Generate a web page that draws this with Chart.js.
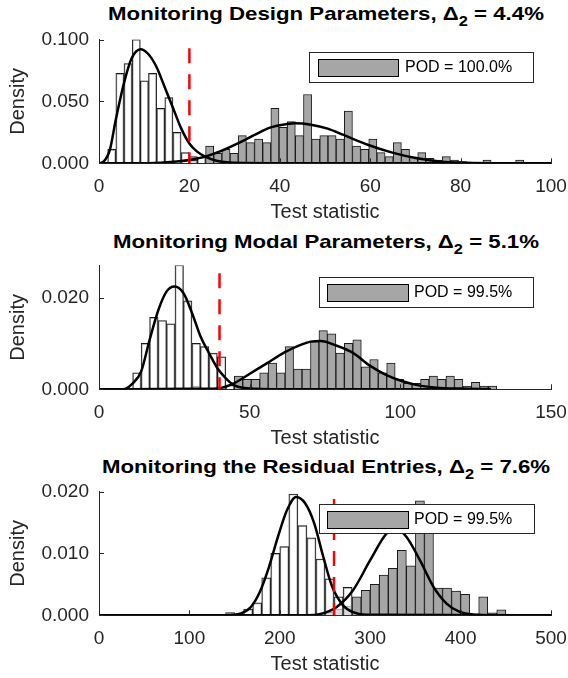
<!DOCTYPE html>
<html>
<head>
<meta charset="utf-8">
<script src="https://cdn.jsdelivr.net/npm/chart.js@4/dist/chart.umd.min.js"></script>
<style>
  html, body { margin: 0; padding: 0; background: #fff; }
  #wrap { position: relative; width: 568px; height: 678px; overflow: hidden;
          font-family: "Liberation Sans", Arial, Helvetica, sans-serif; }
  #wrap canvas { position: absolute; left: 0; }
  .ttl { position: absolute; left: 76px; width: 500px; text-align: center;
         font-weight: bold; font-size: 19px; line-height: 19px; color: #000;
         white-space: nowrap; transform: scaleX(1.17); transform-origin: 50% 50%; }
  .ttl .sub { font-size: 14px; position: relative; top: 6px; }
</style>
</head>
<body>
<div id="wrap">
  <div class="ttl" style="top:4px">Monitoring Design Parameters, &Delta;<span class="sub">2</span> = 4.4%</div>
  <div class="ttl" style="top:232px">Monitoring Modal Parameters, &Delta;<span class="sub">2</span> = 5.1%</div>
  <div class="ttl" style="top:457px">Monitoring the Residual Entries, &Delta;<span class="sub">2</span> = 7.6%</div>
  <canvas id="c1" width="568" height="226" style="top:0"></canvas>
  <canvas id="c2" width="568" height="226" style="top:226px"></canvas>
  <canvas id="c3" width="568" height="226" style="top:452px"></canvas>
</div>
<script>
/* ---- datos ---- */

/* 1: Design parameters */
var bins1 = [2.82, 4.63, 6.43, 8.24, 10.04, 11.85, 13.65, 15.46, 17.26, 19.07,
  20.87, 22.68, 24.48, 26.29, 28.09, 29.9, 31.7, 33.51, 35.31, 37.12,
  38.92, 40.73, 42.53, 44.34, 46.14, 47.95, 49.75, 51.56, 53.36, 55.17,
  56.97, 58.78, 60.58, 62.39, 64.19, 66.0, 67.8, 69.61, 71.41, 73.22,
  75.02, 76.83, 78.63, 80.44, 82.24, 84.05, 85.85, 87.66, 89.46, 91.27, 93.07];
var healthy1 = [0.0113, 0.0726, 0.0806, 0.100, 0.0667, 0.0726, 0.0444, 0.0530, 0.0250, 0.0086,
  0.0027, 0.0048, 0, 0, 0, 0, 0, 0, 0, 0,
  0, 0, 0, 0, 0, 0, 0, 0, 0, 0,
  0, 0, 0, 0, 0, 0, 0, 0, 0, 0,
  0, 0, 0, 0, 0, 0, 0, 0, 0, 0, 0];
var damaged1 = [0, 0, 0, 0, 0, 0, 0, 0, 0, 0,
  0.0054, 0, 0.0140, 0.0081, 0.0113, 0.0081, 0.0223, 0.0167, 0.0196, 0.0167,
  0.0444, 0.0290, 0.0336, 0.0223, 0.0556, 0.0196, 0.0223, 0.0223, 0.0196, 0.0422,
  0.0140, 0.0113, 0.0196, 0.0086, 0.0054, 0.0167, 0.0113, 0.0048, 0.0086, 0.0040,
  0.0027, 0.0054, 0.0027, 0.0013, 0, 0, 0.0027, 0, 0, 0, 0.0027];
var fitHx1 = [0, 1, 2.4, 3.7, 5.5, 7.2, 9.2, 10.8, 12.7, 14.5, 16.4, 18.2, 20, 21.7, 23.5, 26, 30, 40, 100];
var fitHy1 = [0, 0.0013, 0.0108, 0.035, 0.0645, 0.0847, 0.0922, 0.0887, 0.078, 0.0618, 0.0444, 0.028, 0.016, 0.0094, 0.0054, 0.002, 0.0004, 0, 0];
var fitDx1 = [0, 10, 15, 20, 23.5, 27.2, 30.7, 34.4, 38, 41.6, 43.4, 46.9, 50.6, 54.1, 59.6, 64.9, 70.4, 75.8, 81.2, 88, 100];
var fitDy1 = [0, 0, 0.0008, 0.0027, 0.0054, 0.0102, 0.016, 0.0229, 0.029, 0.0317, 0.0323, 0.0312, 0.028, 0.0229, 0.0148, 0.0086, 0.004, 0.0013, 0.0005, 0.0001, 0];
var thr1 = [20, 0.093];
var xTicks1 = [0, 100, 20];
var yTicks1 = [0, 0.1, 0.05];
var pod1 = 'POD = 100.0%';

/* 2: Modal parameters */
var bins2 = [12.58, 15.39, 18.2, 21.01, 23.82, 26.63, 29.44, 32.25, 35.06, 37.87,
  40.68, 43.49, 46.3, 49.11, 51.92, 54.73, 57.54, 60.35, 63.16, 65.97,
  68.78, 71.59, 74.4, 77.21, 80.02, 82.83, 85.64, 88.45, 91.26, 94.07,
  96.88, 99.69, 102.5, 105.31, 108.12, 110.93, 113.74, 116.55, 119.36, 122.17,
  124.98, 127.79, 130.6];
var healthy2 = [0.0036, 0.0100, 0.0157, 0.0150, 0.0143, 0.0271, 0.0193, 0.0100, 0.0093, 0.0079,
  0.0071, 0.0009, 0, 0, 0, 0, 0, 0, 0, 0,
  0, 0, 0, 0, 0, 0, 0, 0, 0, 0,
  0, 0, 0, 0, 0, 0, 0, 0, 0, 0, 0, 0, 0];
var damaged2 = [0, 0, 0, 0, 0, 0, 0, 0.0007, 0, 0,
  0, 0, 0.0029, 0.0022, 0.0022, 0.0036, 0.0057, 0.0036, 0.0093, 0.0044,
  0.0044, 0.0104, 0.0128, 0.0121, 0.0079, 0.0100, 0.0108, 0.0049, 0.0065, 0.0036,
  0.0057, 0.0022, 0.0013, 0.0013, 0.0022, 0.0029, 0.0022, 0.0029, 0.0022, 0.0007,
  0.0015, 0.0007, 0.0007];
var fitHx2 = [0, 8, 11.2, 14.0, 16.8, 19.7, 22.4, 25, 28, 30.9, 33.7, 36.5, 39.3, 42.1, 44.8, 47.6, 52, 60, 130];
var fitHy2 = [0, 0, 0.0013, 0.0039, 0.0108, 0.0173, 0.0213, 0.0224, 0.021, 0.0166, 0.0115, 0.0079, 0.0046, 0.0024, 0.0009, 0.00035, 0.0001, 0, 0];
var fitDx2 = [0, 30, 39.3, 44.8, 50.3, 55.8, 61.4, 66.9, 70.2, 73.5, 78.9, 84.4, 90, 95.4, 101, 106.5, 112, 119.8, 130];
var fitDy2 = [0, 0.0001, 0.0002, 0.0013, 0.0035, 0.0057, 0.008, 0.0097, 0.0104, 0.01055, 0.0095, 0.0079, 0.0051, 0.0031, 0.0017, 0.0008, 0.00036, 0.00015, 0.00005];
var thr2 = [40, 0.0253];
var xTicks2 = [0, 150, 50];
var yTicks2 = [0, 0.027, 0.02];
var pod2 = 'POD = 99.5%';

/* 3: Residual entries */
var bins3 = [145, 155, 165, 175, 185, 195, 205, 215, 225, 235,
  245, 255, 265, 275, 285, 295, 305, 315, 325, 335,
  345, 355, 365, 375, 385, 395, 405, 415, 425, 435, 445];
var healthy3 = [0.00043, 0, 0.0010, 0.0020, 0.00605, 0.0100, 0.0111, 0.0196, 0.0145, 0.0125,
  0.0091, 0.0059, 0.0030, 0.0045, 0, 0, 0, 0, 0, 0,
  0, 0, 0, 0, 0, 0, 0, 0, 0, 0, 0];
var damaged3 = [0, 0, 0, 0, 0, 0, 0, 0, 0, 0,
  0, 0.0005, 0.0010, 0.0015, 0.0030, 0.00405, 0.0050, 0.0065, 0.0076, 0.0105,
  0.0080, 0.0185, 0.0150, 0.0044, 0.0044, 0.0039, 0.0034, 0, 0.0030, 0.0004, 0.0009];
var fitHx3 = [0, 140, 157, 168, 178, 188, 198, 208, 218, 228, 238, 248, 258, 270, 281, 295, 500];
var fitHy3 = [0, 0, 0.0003, 0.00135, 0.0038, 0.0078, 0.0127, 0.017, 0.0191, 0.0181, 0.0149, 0.0095, 0.0046, 0.0016, 0.0005, 0.0001, 0];
var fitDx3 = [0, 230, 245, 263, 281, 300, 318, 329, 340, 355, 370, 384.5, 399, 418, 440, 500];
var fitDy3 = [0, 0, 0.0002, 0.00135, 0.00405, 0.0089, 0.0132, 0.0140, 0.0127, 0.0089, 0.0046, 0.0019, 0.00054, 0.0001, 0, 0];
var thr3 = [260, 0.0188];
var xTicks3 = [0, 500, 100];
var yTicks3 = [0, 0.02, 0.01];
var pod3 = 'POD = 99.5%';

/* ---- estilo ---- */
var FONT = '"Liberation Sans", Arial, Helvetica, sans-serif';
var AX = '#262626';
var GRAY = '#a6a6a6';

function pts(xs, ys) {
  return xs.map(function (x, i) { return { x: x, y: ys[i] }; });
}

/* ticks hacia dentro, como en MATLAB */
var inwardTicks = {
  id: 'inwardTicks',
  afterDraw: function (chart) {
    var ctx = chart.ctx, a = chart.chartArea;
    var xs = chart.scales.x, ys = chart.scales.y;
    ctx.save();
    ctx.strokeStyle = AX;
    ctx.lineWidth = 1;
    ctx.beginPath();
    xs.ticks.forEach(function (t) {
      var px = Math.round(xs.getPixelForValue(t.value)) + 0.5;
      ctx.moveTo(px, a.bottom);
      ctx.lineTo(px, a.bottom - 5);
    });
    ys.ticks.forEach(function (t) {
      var py = Math.round(ys.getPixelForValue(t.value)) + 0.5;
      ctx.moveTo(a.left, py);
      ctx.lineTo(a.left + 5, py);
    });
    ctx.stroke();
    ctx.restore();
  }
};

/* leyenda con caja, solo la serie gris */
var podLegend = {
  id: 'podLegend',
  afterDraw: function (chart, args, o) {
    if (!o.text) return;
    var ctx = chart.ctx;
    ctx.save();
    ctx.fillStyle = '#fff';
    ctx.fillRect(o.x, o.y, o.w, o.h);
    ctx.strokeStyle = AX;
    ctx.lineWidth = 1;
    ctx.strokeRect(o.x + 0.5, o.y + 0.5, o.w, o.h);
    ctx.fillStyle = GRAY;
    ctx.fillRect(o.sx, o.y + 7, o.sw, 17);
    ctx.strokeStyle = '#000';
    ctx.strokeRect(o.sx + 0.5, o.y + 7.5, o.sw, 17);
    ctx.fillStyle = '#000';
    ctx.font = '16px ' + FONT;
    ctx.textBaseline = 'middle';
    ctx.fillText(o.text, o.tx, o.y + o.h / 2 + 1);
    ctx.restore();
  }
};

function makeChart(id, bins, healthy, damaged, fitHx, fitHy, fitDx, fitDy, thr, xT, yT, pod, leg) {
  var barBase = {
    type: 'bar', grouped: false, categoryPercentage: 1, barPercentage: 1,
    borderColor: '#1a1a1a', borderWidth: 1
  };
  return new Chart(document.getElementById(id), {
    type: 'bar',
    data: {
      datasets: [
        { type: 'line', data: [{ x: thr[0], y: thr[1] }, { x: thr[0], y: 0 }],
          borderColor: '#ff0000', borderWidth: 2.5, borderDash: [15, 11],
          pointRadius: 0, order: 0 },
        { type: 'line', data: pts(fitHx, fitHy), borderColor: '#000', borderWidth: 2.5,
          pointRadius: 0, cubicInterpolationMode: 'monotone', order: 1 },
        { type: 'line', data: pts(fitDx, fitDy), borderColor: '#000', borderWidth: 2.5,
          pointRadius: 0, cubicInterpolationMode: 'monotone', order: 1 },
        Object.assign({}, barBase, { data: pts(bins, healthy), backgroundColor: 'rgba(255,255,255,0.6)', order: 2 }),
        Object.assign({}, barBase, { data: pts(bins, damaged), backgroundColor: GRAY, order: 3 })
      ]
    },
    options: {
      responsive: false, animation: false, devicePixelRatio: 1,
      layout: { padding: { left: 0, right: 17, top: 39.5, bottom: 0 } },
      plugins: { legend: { display: false }, tooltip: { enabled: false }, podLegend: leg },
      scales: {
        x: {
          type: 'linear', min: xT[0], max: xT[1], offset: false,
          grid: { display: false, drawTicks: false },
          border: { display: true, color: AX, width: 1 },
          ticks: { stepSize: xT[2], padding: 12, color: AX, font: { family: FONT, size: 19 }, maxRotation: 0 },
          title: { display: true, text: 'Test statistic', color: AX, padding: { top: 0, bottom: 2 },
                   font: { family: FONT, size: 20 } },
          afterFit: function (s) { s.height = 62.7; s.paddingLeft = 0; s.paddingRight = 0; }
        },
        y: {
          min: yT[0], max: yT[1],
          grid: { display: false, drawTicks: false },
          border: { display: true, color: AX, width: 1 },
          ticks: { stepSize: yT[2], includeBounds: false, padding: 10, color: AX,
                   font: { family: FONT, size: 19 },
                   callback: function (v) { return v.toFixed(3); } },
          title: { display: true, text: 'Density', color: AX, padding: { top: 6, bottom: 0 },
                   font: { family: FONT, size: 20 } },
          afterFit: function (s) { s.width = 99; s.paddingTop = 0; s.paddingBottom = 0; }
        }
      }
    },
    plugins: [inwardTicks, podLegend]
  });
}

makeChart('c1', bins1, healthy1, damaged1, fitHx1, fitHy1, fitDx1, fitDy1, thr1, xTicks1, yTicks1, pod1,
  { text: pod1, x: 309, y: 52, w: 224, h: 30, sx: 318, sw: 80, tx: 405 });
makeChart('c2', bins2, healthy2, damaged2, fitHx2, fitHy2, fitDx2, fitDy2, thr2, xTicks2, yTicks2, pod2,
  { text: pod2, x: 319, y: 51, w: 214, h: 30, sx: 327, sw: 81, tx: 414 });
makeChart('c3', bins3, healthy3, damaged3, fitHx3, fitHy3, fitDx3, fitDy3, thr3, xTicks3, yTicks3, pod3,
  { text: pod3, x: 319, y: 52, w: 215, h: 29, sx: 327, sw: 81, tx: 414 });
</script>
</body>
</html>
